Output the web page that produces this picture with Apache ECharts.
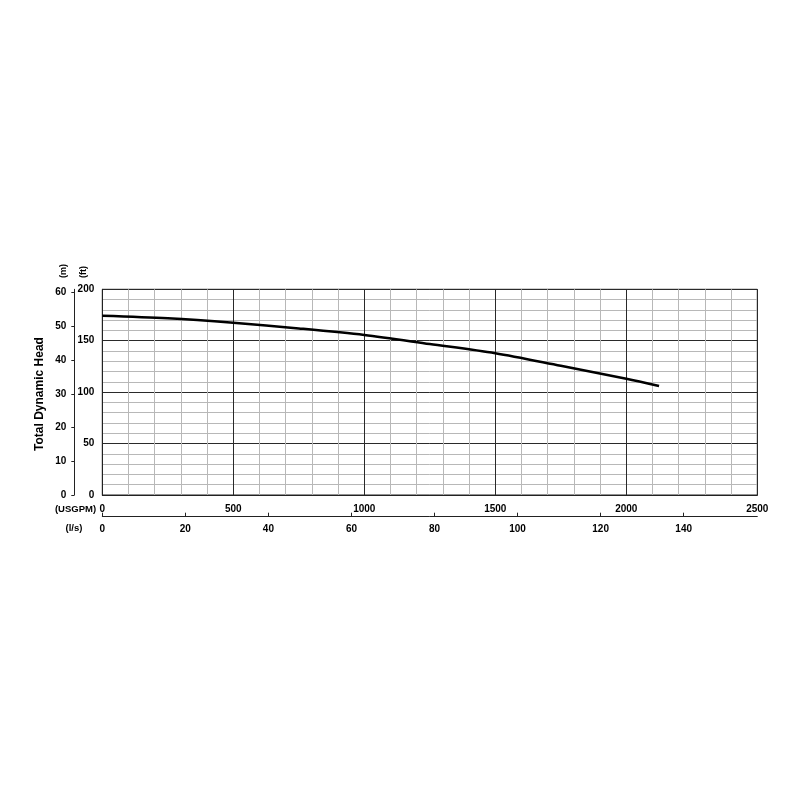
<!DOCTYPE html>
<html>
<head>
<meta charset="utf-8">
<script src="https://cdn.jsdelivr.net/npm/echarts@6/dist/echarts.min.js"></script>
<style>
html,body{margin:0;padding:0;background:#fff;}
#chart{width:800px;height:800px;}
</style>
</head>
<body>
<div id="chart"></div>
<script>
// Pump curve data
var flowUSGPM = [0, 250, 500, 750, 1000, 1250, 1500, 1750, 2000, 2125];
var headFt    = [174.3, 171.8, 167.5, 162.0, 155.6, 146.8, 137.8, 125.6, 113.1, 106.0];

// Tick labels
var gpmTicks = [0, 500, 1000, 1500, 2000, 2500];
var lpsTicks = [0, 20, 40, 60, 80, 100, 120, 140];
var ftTicks  = [0, 50, 100, 150, 200];
var mTicks   = [0, 10, 20, 30, 40, 50, 60];

var GPM_PER_LPS = 15.850323;
var FT_PER_M = 3.28084;
var gpmMax = 2500, ftMax = 200;

var fontFam = '"Liberation Sans", Arial, sans-serif';
var plain = function(v){return String(Math.round(v));};
function lbl(extra){
  return Object.assign({color:'#000', fontWeight:'bold', fontSize:10, fontFamily:fontFam, formatter:plain}, extra);
}

var chart = echarts.init(document.getElementById('chart'));
var pairs = flowUSGPM.map(function(q,i){return [q, headFt[i]];});

chart.setOption({
  backgroundColor:'#fff',
  animation:false,
  grid:{left:102.3, right:42.7, top:289.3, bottom:305, containLabel:false, outerBoundsMode:'none',
        show:true, borderColor:'#222', borderWidth:1},
  xAxis:[
    {type:'value', position:'bottom', min:0, max:gpmMax, interval:500,
     axisLine:{show:true, lineStyle:{color:'#222', width:1}}, axisTick:{show:false},
     axisLabel:lbl({margin:9, customValues:gpmTicks}),
     splitLine:{show:true, lineStyle:{color:'#2a2a2a', width:1}},
     minorTick:{show:false, splitNumber:5},
     minorSplitLine:{show:true, lineStyle:{color:'#b8b8b8', width:1}}},
    {type:'value', position:'bottom', offset:21.7, min:0, max:gpmMax/GPM_PER_LPS, interval:20,
     axisLine:{show:true, onZero:false, lineStyle:{color:'#222', width:1}},
     axisTick:{show:true, inside:true, length:4, customValues:lpsTicks, lineStyle:{color:'#222'}},
     axisLabel:lbl({margin:8, customValues:lpsTicks}),
     splitLine:{show:false}}
  ],
  yAxis:[
    {type:'value', position:'left', min:0, max:ftMax, interval:50,
     axisLine:{show:true, lineStyle:{color:'#222', width:1}}, axisTick:{show:false},
     axisLabel:lbl({margin:8, customValues:ftTicks}),
     splitLine:{show:true, lineStyle:{color:'#2a2a2a', width:1}},
     minorTick:{show:false, splitNumber:5},
     minorSplitLine:{show:true, lineStyle:{color:'#b8b8b8', width:1}}},
    {type:'value', position:'left', offset:28, min:0, max:ftMax/FT_PER_M, interval:10,
     axisLine:{show:true, onZero:false, lineStyle:{color:'#222', width:1}},
     axisTick:{show:true, inside:false, length:3, customValues:mTicks, lineStyle:{color:'#222'}},
     axisLabel:lbl({margin:8, customValues:mTicks}),
     splitLine:{show:false}}
  ],
  series:[
    {type:'line', xAxisIndex:0, yAxisIndex:0, data:pairs, smooth:0.3, symbol:'none',
     lineStyle:{color:'#000', width:2.5}, z:10}
  ],
  graphic:[
    {type:'text', x:40, y:394, rotation:Math.PI/2,
     style:{text:'Total Dynamic Head', fill:'#000', font:'bold 12px '+fontFam, align:'center', verticalAlign:'middle'}},
    {type:'text', x:63.5, y:271, rotation:Math.PI/2,
     style:{text:'(m)', fill:'#000', font:'bold 9px '+fontFam, align:'center', verticalAlign:'middle'}},
    {type:'text', x:84, y:272, rotation:Math.PI/2,
     style:{text:'(ft)', fill:'#000', font:'bold 9px '+fontFam, align:'center', verticalAlign:'middle'}},
    {type:'text', x:75.5, y:509.5,
     style:{text:'(USGPM)', fill:'#000', font:'bold 9.5px '+fontFam, align:'center', verticalAlign:'middle'}},
    {type:'text', x:74, y:528.5,
     style:{text:'(l/s)', fill:'#000', font:'bold 9.5px '+fontFam, align:'center', verticalAlign:'middle'}}
  ]
});
</script>
</body>
</html>
